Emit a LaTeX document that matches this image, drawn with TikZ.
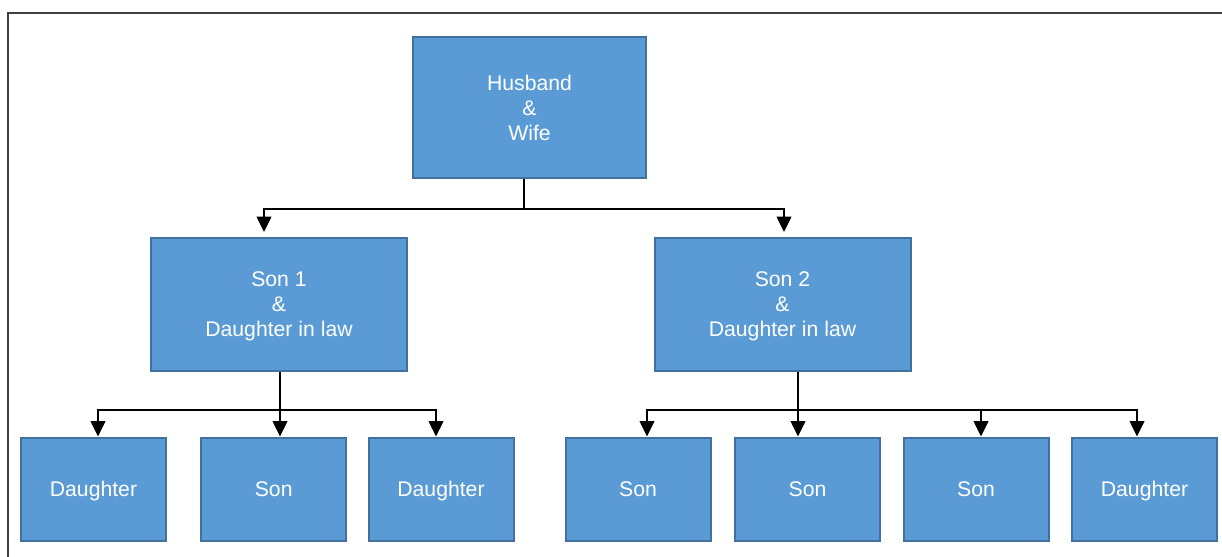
\documentclass[tikz,border=0pt]{standalone}
\usepackage{fontspec}
\setmainfont{Liberation Sans}
\usetikzlibrary{arrows.meta,calc}

\definecolor{boxfill}{RGB}{91,155,213}
\definecolor{boxline}{RGB}{65,113,156}
\definecolor{framegray}{RGB}{64,64,64}

\tikzset{every picture/.style={line width=0.75pt}}
\tikzset{
  box/.style={draw=boxline, fill=boxfill, line width=1.5pt, inner sep=0pt,
    text=white, align=center, font=\fontsize{15.9}{18.75}\selectfont,
    text depth=0pt},
  topbox/.style={box, minimum width=174.75pt, minimum height=105.75pt},
  midbox/.style={box, minimum width=192pt, minimum height=99.75pt},
  leafbox/.style={box, minimum width=108.75pt, minimum height=77.25pt,
    text height=11.5pt},
  link/.style={draw=black, line width=1.1pt},
  arr/.style={link, -{Triangle[width=11pt,length=11.5pt]}}
}

\begin{document}
\begin{tikzpicture}[x=0.75pt,y=0.75pt,yscale=-1,xscale=1]
\useasboundingbox (0,0) rectangle (1222,557);

%Frame
\draw [framegray, line width=1.5pt] (1222,13) -- (8,13) -- (8,557) ;

%Shape: Rectangle
\node [topbox] (hw) at (529.5,107.5) {Husband\\\&\\Wife};
%Shape: Rectangle
\node [midbox] (s1) at (279,304.5) {Son 1\\\&\\Daughter in law};
\node [midbox] (s2) at (782.5,304.5) {Son 2\\\&\\Daughter in law};

%Shape: Rectangle
\node [leafbox] (c1) at (93.5,489) {Daughter};
\node [leafbox] (c2) at (273.7,489) {Son};
\node [leafbox] (c3) at (441,489) {Daughter};
\node [leafbox] (c4) at (638,489) {Son};
\node [leafbox] (c5) at (807.5,489) {Son};
\node [leafbox] (c6) at (976,489) {Son};
\node [leafbox] (c7) at (1144.5,489) {Daughter};

%Straight Lines
\coordinate (j0) at ($(hw.south)+(-5.5,30)$);
\draw [link] ($(hw.south)+(-5.5,0)$) -- (j0) ;
\draw [arr] (j0) -| ($(s1.north)+(-15,-5)$) ;
\draw [arr] (j0) -| ($(s2.north)+(1.5,-5)$) ;

%Straight Lines
\coordinate (j1) at ($(s1.south)+(1,38)$);
\draw [link] ($(s1.south)+(1,0)$) -- (j1) ;
\draw [arr] (j1) -| ($(c1.north)+(4.5,0)$) ;
\draw [arr] (j1) -| ($(c2.north)+(6.3,0)$) ;
\draw [arr] (j1) -| ($(c3.north)+(-5,0)$) ;

%Straight Lines
\coordinate (j2) at ($(s2.south)+(15.5,38)$);
\draw [link] ($(s2.south)+(15.5,0)$) -- (j2) ;
\draw [arr] (j2) -| ($(c4.north)+(9,0)$) ;
\draw [arr] (j2) -| ($(c5.north)+(-9.5,0)$) ;
\draw [arr] (j2) -| ($(c6.north)+(5,0)$) ;
\draw [arr] (j2) -| ($(c7.north)+(-7.5,0)$) ;

\end{tikzpicture}
\end{document}
